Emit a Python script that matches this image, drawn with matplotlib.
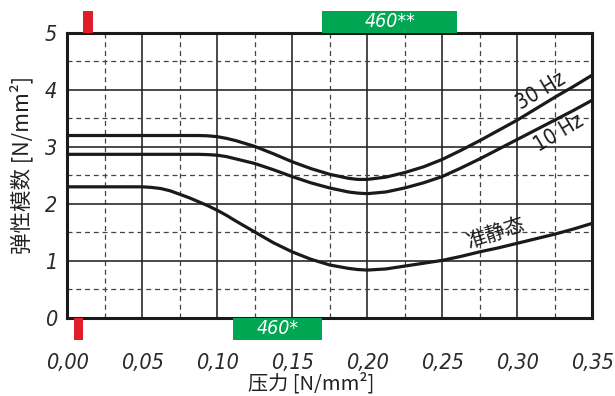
import matplotlib
matplotlib.use("Agg")
import matplotlib.pyplot as plt
from matplotlib.patches import Rectangle

plt.rcParams['font.family'] = ['DejaVu Sans']
plt.rcParams['font.stretch'] = 'condensed'

# ---- data ----
x_vals = [0.0, 0.025, 0.05, 0.05625, 0.0625, 0.06875, 0.075, 0.08125, 0.0875, 0.09375, 0.10,
          0.10625, 0.1125, 0.125, 0.1375, 0.15, 0.1625, 0.175, 0.1875, 0.19375, 0.20,
          0.2125, 0.225, 0.2375, 0.25, 0.2625, 0.275, 0.2875, 0.30, 0.3125, 0.325,
          0.3375, 0.35]
hz30 = [3.20, 3.20, 3.20, 3.20, 3.20, 3.20, 3.20, 3.20, 3.20, 3.195, 3.18,
        3.15, 3.11, 3.01, 2.88, 2.74, 2.62, 2.52, 2.45, 2.43, 2.43,
        2.47, 2.55, 2.65, 2.78, 2.94, 3.11, 3.29, 3.47, 3.67, 3.87,
        4.06, 4.26]
hz10 = [2.87, 2.87, 2.87, 2.87, 2.87, 2.87, 2.87, 2.87, 2.87, 2.865, 2.855,
        2.83, 2.79, 2.71, 2.60, 2.48, 2.37, 2.28, 2.21, 2.19, 2.18,
        2.21, 2.28, 2.37, 2.48, 2.63, 2.79, 2.96, 3.13, 3.30, 3.47,
        3.64, 3.82]
quasi = [2.30, 2.30, 2.30, 2.29, 2.27, 2.23, 2.17, 2.11, 2.04, 1.97, 1.89,
         1.80, 1.70, 1.51, 1.32, 1.16, 1.03, 0.93, 0.87, 0.85, 0.84,
         0.86, 0.91, 0.96, 1.01, 1.08, 1.16, 1.23, 1.31, 1.39, 1.47,
         1.56, 1.66]
curve_labels = ["30 Hz", "10 Hz", "准静态"]

x_ticks = [0.0, 0.05, 0.10, 0.15, 0.20, 0.25, 0.30, 0.35]
x_tick_labels = ["0,00", "0,05", "0,10", "0,15", "0,20", "0,25", "0,30", "0,35"]
y_ticks = [0, 1, 2, 3, 4, 5]

# bands: (x_start, x_end, label)
red_top = (0.0107, 0.0173)
red_bottom = (0.0047, 0.0104)
green_bottom = (0.1105, 0.1700, "460*")
green_top = (0.1700, 0.2600, "460**")

# ---- figure ----
fig = plt.figure(figsize=(6.15, 3.96), dpi=100)
ax = fig.add_axes([0.109, 0.197, 0.854, 0.72])
ax.set_xlim(0, 0.35)
ax.set_ylim(0, 5)

# grid
for xv in [i * 0.025 for i in range(1, 14)]:
    if abs((xv / 0.05) - round(xv / 0.05)) < 1e-6:
        ax.axvline(xv, color='#2a2a2a', lw=1.2, zorder=1)
    else:
        ax.axvline(xv, color='#444444', lw=0.9, ls=(0, (4, 3)), zorder=1)
for yv in [i * 0.5 for i in range(1, 10)]:
    if abs(yv - round(yv)) < 1e-6:
        ax.axhline(yv, color='#2a2a2a', lw=1.2, zorder=1)
    else:
        ax.axhline(yv, color='#444444', lw=0.9, ls=(0, (4, 3)), zorder=1)

for s in ax.spines.values():
    s.set_linewidth(2.2)
    s.set_color('#1a1a1a')
    s.set_zorder(5)

lw = 2.3
for ys in (hz30, hz10, quasi):
    ax.plot(x_vals, ys, color='#1a1a1a', lw=lw, zorder=3,
            solid_joinstyle='round', solid_capstyle='butt')

ax.text(0.3156, 3.98, curve_labels[0], rotation=31, ha='center', va='center',
        fontsize=15, color='#1a1a1a', zorder=4)
ax.text(0.328, 3.24, curve_labels[1], rotation=31, ha='center', va='center',
        fontsize=15, color='#1a1a1a', zorder=4)
ax.text(0.2856, 1.48, curve_labels[2], rotation=18, ha='center', va='center',
        fontsize=14.5, color='#1a1a1a', zorder=4,
        family=['Noto Sans CJK SC', 'DejaVu Sans'])

# ticks
ax.set_xticks(x_ticks)
ax.set_xticklabels(x_tick_labels, fontsize=15.5, style='italic', color='#2a2a2a')
ax.set_yticks(y_ticks)
ax.set_yticklabels([str(v) for v in y_ticks], fontsize=15.5, style='italic', color='#2a2a2a')
ax.tick_params(axis='both', length=0)
ax.tick_params(axis='x', pad=25)
ax.tick_params(axis='y', pad=7)

cjk = ['Noto Sans CJK SC', 'DejaVu Sans']
fig.text(311 / 615, 1 - 384 / 396, "压力 [N/mm²]", fontsize=14.5, family=cjk,
         color='#222222', ha='center', va='center')
fig.text(22 / 615, 1 - 165 / 396, "弹性模数 [N/mm²]", fontsize=15.5, family=cjk,
         color='#222222', ha='center', va='center', rotation=90)

# colored bands outside axes
band_h = 0.386
red = '#e01e2b'
green = '#00a651'
ax.add_patch(Rectangle((red_top[0], 5), red_top[1] - red_top[0], band_h,
                       color=red, clip_on=False, zorder=6, lw=0))
ax.add_patch(Rectangle((red_bottom[0], -band_h), red_bottom[1] - red_bottom[0], band_h,
                       color=red, clip_on=False, zorder=6, lw=0))
ax.add_patch(Rectangle((green_bottom[0], -band_h), green_bottom[1] - green_bottom[0], band_h,
                       color=green, clip_on=False, zorder=6, lw=0))
ax.add_patch(Rectangle((green_top[0], 5), green_top[1] - green_top[0], band_h,
                       color=green, clip_on=False, zorder=6, lw=0))
ax.text((green_bottom[0] + green_bottom[1]) / 2, -band_h / 2, green_bottom[2],
        color='white', fontsize=14, style='italic', ha='center', va='center',
        clip_on=False, zorder=7)
ax.text((green_top[0] + green_top[1]) / 2, 5 + band_h / 2, green_top[2],
        color='white', fontsize=14, style='italic', ha='center', va='center',
        clip_on=False, zorder=7)

fig.savefig("out.png", dpi=100)
